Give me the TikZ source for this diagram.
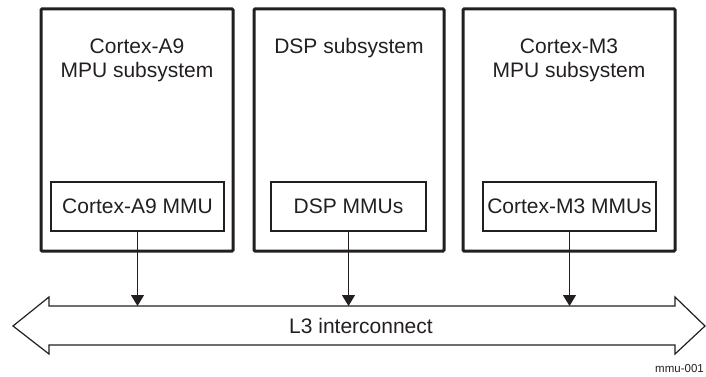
\documentclass[tikz,border=0pt]{standalone}
\usepackage{fontspec}
\setmainfont{Liberation Sans}
\usetikzlibrary{arrows.meta}
\definecolor{ink}{HTML}{231F20}
\begin{document}
\begin{tikzpicture}[x=1pt,y=-1pt,
  subsys/.style={draw=ink,line width=3pt,rounded corners=1pt,inner sep=0pt},
  mmubox/.style={draw=ink,line width=2pt,inner sep=0pt,font=\fontsize{21}{24}\selectfont,text=ink},
  title/.style={inner sep=0pt,align=center,font=\fontsize{21}{24}\selectfont,text=ink},
  link/.style={draw=ink,line width=1.1pt,-{Triangle[length=11pt,width=13pt]}},
  bus/.style={draw=ink,line width=1.2pt,line join=miter}]
\useasboundingbox (0,0) rectangle (706,377);
% outer subsystem boxes
\node[subsys,minimum width=192pt,minimum height=242pt] (s1) at (137,130) {};
\node[subsys,minimum width=190pt,minimum height=242pt] (s2) at (349,130) {};
\node[subsys,minimum width=212pt,minimum height=242pt] (s3) at (569,130) {};
% titles
\node[title] (t1) at (137,60) {Cortex-A9\\MPU subsystem};
\node[title] (t2) at (349,48) {DSP subsystem};
\node[title] (t3) at (569,60) {Cortex-M3\\MPU subsystem};
% MMU boxes
\node[mmubox,minimum width=173pt,minimum height=49pt] (m1) at (137.5,206.5) {Cortex-A9 MMU};
\node[mmubox,minimum width=155pt,minimum height=49pt] (m2) at (348.5,206.5) {DSP MMUs};
\node[mmubox,minimum width=173pt,minimum height=49pt] (m3) at (569.5,206.5) {Cortex-M3 MMUs};
% L3 interconnect bus
\draw[bus] (13,326) -- (49,297) -- (49,306) -- (675,306) -- (675,297) -- (705,326)
  -- (675,354) -- (675,345) -- (49,345) -- (49,354) -- cycle;
\coordinate (bustop) at (360,306);
\node[title] (l3) at (361,326) {L3 interconnect};
% connectors
\draw[link] (m1.south) -- (m1.south |- bustop);
\draw[link] (m2.south) -- (m2.south |- bustop);
\draw[link] (m3.south) -- (m3.south |- bustop);
% figure id
\node[anchor=base east,inner sep=0pt,font=\fontsize{11.5}{13}\selectfont,text=ink] (id) at (704,372) {mmu-001};
\end{tikzpicture}
\end{document}
